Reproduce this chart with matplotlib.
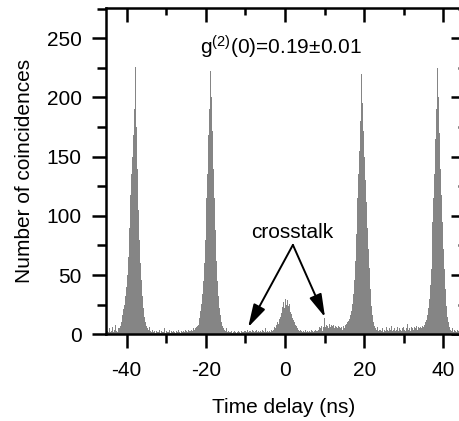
import numpy as np
import matplotlib
matplotlib.use("Agg")
import matplotlib.pyplot as plt
from matplotlib.ticker import MultipleLocator

plt.rcParams['font.family'] = ['Liberation Sans', 'DejaVu Sans']
plt.rcParams['mathtext.fontset'] = 'custom'
plt.rcParams['mathtext.rm'] = 'Liberation Sans'
plt.rcParams['mathtext.it'] = 'Liberation Sans:italic'
plt.rcParams['axes.unicode_minus'] = False

# ---- data: histogram of coincidences, 0.25 ns bins starting at -46 ns ----
bin_start = -46.0
bin_width = 0.25
counts = [
    3, 2, 4, 1, 3, 2, 5, 2,            # -46
    3, 6, 2, 4, 8, 3, 2, 5,            # -44
    5, 7, 10, 16, 21, 25, 32, 40,      # -42
    50, 65, 90, 118, 135, 150, 168, 190,   # -40
    226, 200, 175, 140, 105, 80, 60, 46,   # -38
    32, 22, 15, 10, 7, 5, 4, 6,        # -36
    3, 2, 4, 2, 3, 1, 3, 2,            # -34
    2, 4, 1, 3, 2, 2, 5, 1,            # -32
    3, 2, 2, 4, 1, 3, 2, 3,            # -30
    2, 1, 3, 2, 4, 2, 1, 3,            # -28
    2, 3, 2, 4, 3, 2, 4, 3,            # -26
    3, 4, 3, 5, 4, 5, 6, 7,            # -24
    8, 14, 20, 26, 34, 45, 60, 80,     # -22
    115, 135, 168, 190, 222, 200, 172, 140,  # -20
    115, 88, 62, 45, 32, 22, 16, 10,   # -18
    7, 5, 4, 3, 5, 2, 3, 2,            # -16
    2, 3, 1, 2, 3, 2, 2, 1,            # -14
    2, 3, 2, 1, 3, 2, 2, 3,            # -12
    3, 2, 4, 2, 3, 3, 2, 4,            # -10
    3, 2, 3, 4, 2, 3, 2, 3,            # -8
    2, 4, 3, 2, 5, 2, 3, 2,            # -6
    3, 2, 4, 3, 4, 6, 5, 8,            # -4
    10, 9, 13, 15, 18, 23, 27, 22,     # -2
    30, 25, 29, 24, 26, 19, 17, 14,    # 0
    12, 10, 8, 7, 5, 4, 3, 4,          # 2
    3, 2, 3, 2, 4, 2, 3, 2,            # 4
    3, 2, 4, 3, 2, 3, 4, 3,            # 6
    3, 4, 6, 5, 7, 3, 6, 14,           # 8
    6, 8, 7, 5, 9, 6, 8, 7,            # 10
    6, 8, 5, 7, 6, 5, 7, 6,            # 12
    5, 6, 4, 7, 5, 8, 9, 10,           # 14
    11, 13, 16, 20, 26, 34, 46, 62,    # 16
    85, 115, 135, 155, 180, 220, 195, 172,  # 18
    150, 130, 112, 90, 72, 56, 38, 24,  # 20
    16, 10, 7, 5, 4, 6, 3, 4,          # 22
    4, 3, 5, 2, 4, 3, 6, 4,            # 24
    3, 5, 4, 7, 3, 4, 5, 3,            # 26
    4, 6, 3, 5, 4, 3, 5, 6,            # 28
    4, 3, 5, 9, 4, 5, 3, 6,            # 30
    5, 4, 6, 5, 7, 4, 6, 5,            # 32
    6, 5, 7, 6, 8, 10, 12, 16,         # 34
    22, 30, 42, 55, 70, 95, 115, 135,  # 36
    165, 190, 225, 200, 170, 140, 118, 95,  # 38
    72, 55, 38, 24, 15, 10, 6, 4,      # 40
    3, 5, 2, 4, 3, 2, 4, 3,            # 42
]
edges = bin_start + bin_width * np.arange(len(counts) + 1)

g2_text = r"g$^{\mathrm{(2)}}$(0)=0.19±0.01"
crosstalk_label = "crosstalk"
crosstalk_src = (2.0, 75.5)
crosstalk_tips = [(-9.3, 6.0), (10.1, 14.5)]

# ---- figure ----
fig = plt.figure(figsize=(4.59, 4.21), dpi=100)
ax = fig.add_axes([106/459, 1 - 334.3/421, 356/459, (334.3 - 8.3)/421])

ax.stairs(counts, edges, fill=True, color='#858585', linewidth=0)

ax.set_xlim(-45.2, 44.7)
ax.set_ylim(0, 275.3)

lw = 1.8
fs = 15
for s in ax.spines.values():
    s.set_linewidth(lw)
ax.spines['top'].set_visible(False)
ax.spines['right'].set_visible(False)

ax.xaxis.set_major_locator(MultipleLocator(20))
ax.xaxis.set_minor_locator(MultipleLocator(10))
ax.yaxis.set_major_locator(MultipleLocator(50))
ax.yaxis.set_minor_locator(MultipleLocator(25))
ax.tick_params(which='major', direction='out', length=10, width=lw, labelsize=fs)
ax.tick_params(axis='y', which='major', pad=7.5)
ax.tick_params(axis='x', which='major', pad=9.5)
ax.tick_params(which='minor', direction='out', length=6.5, width=lw)

top = ax.secondary_xaxis('top')
top.xaxis.set_major_locator(MultipleLocator(20))
top.xaxis.set_minor_locator(MultipleLocator(10))
top.tick_params(which='major', direction='in', length=10, width=lw, labeltop=False)
top.tick_params(which='minor', direction='in', length=5, width=lw)
top.spines['top'].set_linewidth(lw)

right = ax.secondary_yaxis('right')
right.yaxis.set_major_locator(MultipleLocator(50))
right.yaxis.set_minor_locator(MultipleLocator(25))
right.tick_params(which='major', direction='in', length=8, width=lw, labelright=False)
right.tick_params(which='minor', direction='in', length=3, width=lw)
right.spines['right'].set_linewidth(lw)

ax.set_xlabel("Time delay (ns)", fontsize=fs, labelpad=13)
ax.set_ylabel("Number of coincidences", fontsize=fs, labelpad=9)

ax.text(-1.0, 236, g2_text, fontsize=fs, ha='center', va='baseline')
ax.text(crosstalk_src[0] - 0.2, 81, crosstalk_label, fontsize=fs, ha='center', va='baseline')
for tip in crosstalk_tips:
    ax.annotate('', xy=tip, xytext=crosstalk_src,
                arrowprops=dict(arrowstyle='-|>,head_length=1.0,head_width=0.28',
                                color='black', lw=1.4, mutation_scale=14,
                                shrinkA=0, shrinkB=0))

fig.savefig("out.png", dpi=100)
